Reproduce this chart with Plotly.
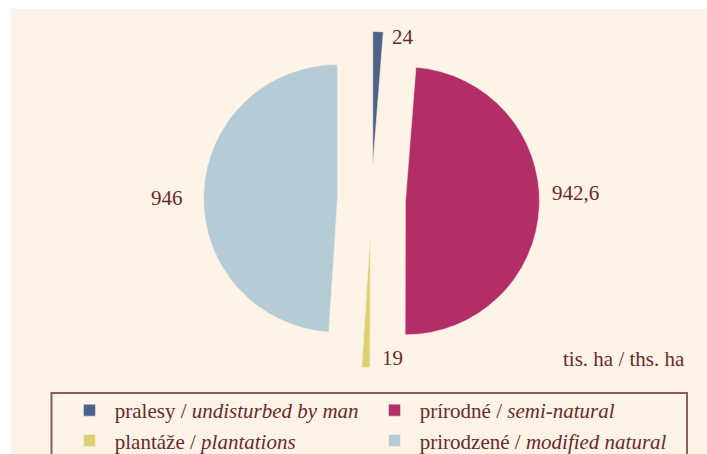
import plotly.graph_objects as go

categories_sk = ["pralesy", "prírodné", "plantáže", "prirodzené"]
categories_en = ["undisturbed by man", "semi-natural", "plantations", "modified natural"]
values = [24, 942.6, 19, 946]
colors = ["#4E6189", "#B32D66", "#DCD071", "#B5CCD6"]
value_labels = [f"{v:g}".replace(".", ",") for v in values]
unit_label = "tis. ha / ths. ha"

W, H = 707, 454
TXT = "#6B2A2A"
FONT = "Liberation Serif"

def px(x):
    return x / W

def py(y):
    return 1 - y / H

names = [f"\u00a0{s} / <i>{e}</i>" for s, e in zip(categories_sk, categories_en)]

fig = go.Figure(go.Pie(
    labels=names,
    values=values,
    marker=dict(colors=colors, line=dict(color="#FDF3E7", width=0.5)),
    sort=False,
    direction="clockwise",
    rotation=0,
    pull=[0.254] * 4,
    textinfo="none",
    hoverinfo="label+value",
    domain=dict(x=[px(371.5 - 168), px(371.5 + 168)], y=[py(199.5 + 168), py(199.5 - 168)]),
))

label_pos = [(390, 37, "left"), (550, 193, "left"), (380, 358, "left"), (185, 198, "right")]
annotations = []
for (x, y, anc), t in zip(label_pos, value_labels):
    annotations.append(dict(x=px(x), y=py(y), xref="paper", yref="paper", text=t,
                            showarrow=False, xanchor=anc, yanchor="middle",
                            font=dict(family=FONT, size=21, color=TXT)))
annotations.append(dict(x=px(687), y=py(359), xref="paper", yref="paper", text=unit_label,
                        showarrow=False, xanchor="right", yanchor="middle",
                        font=dict(family=FONT, size=21, color=TXT)))

fig.update_layout(
    width=W, height=H,
    margin=dict(l=0, r=0, t=0, b=0, autoexpand=False),
    paper_bgcolor="white",
    plot_bgcolor="rgba(0,0,0,0)",
    showlegend=True,
    legend=dict(
        orientation="h",
        x=px(69.5), y=py(390), xanchor="left", yanchor="top",
        entrywidth=260, entrywidthmode="pixels",
        font=dict(family=FONT, size=21, color=TXT),
        bgcolor="rgba(0,0,0,0)", borderwidth=0,
        traceorder="normal",
    ),
    shapes=[
        dict(type="rect", xref="paper", yref="paper", x0=px(11), x1=px(707), y0=py(460), y1=py(9),
             fillcolor="#FEF3E7", line=dict(width=0), layer="below"),
        dict(type="rect", xref="paper", yref="paper", x0=px(51.5), x1=px(687), y0=py(470), y1=py(393),
             fillcolor="rgba(0,0,0,0)", line=dict(color="#8E5A5A", width=2), layer="above"),
    ],
    annotations=annotations,
)

fig.write_html(
    "out.html",
    config={"displayModeBar": False},
    post_script="document.body.style.margin='0';document.body.style.overflow='hidden';"
                "document.documentElement.style.overflow='hidden';",
)
